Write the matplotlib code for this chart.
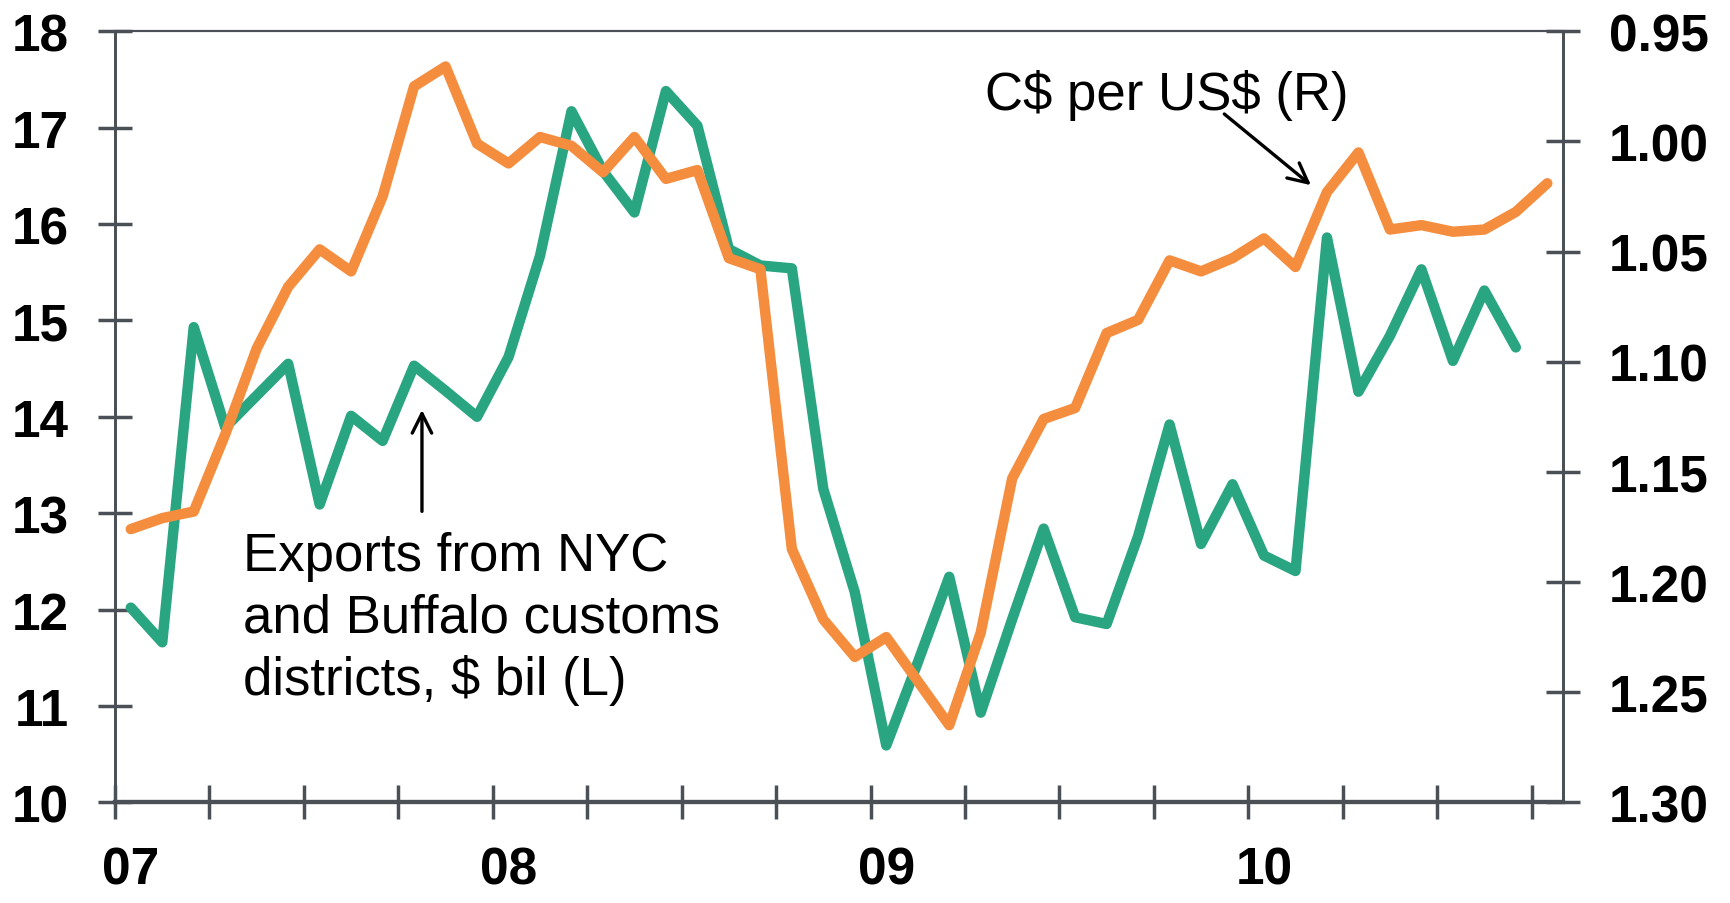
import matplotlib
matplotlib.use("Agg")
import matplotlib.pyplot as plt
import numpy as np
import pandas as pd

plt.rcParams['font.family'] = ['Liberation Sans', 'DejaVu Sans']

# monthly data, Jan 2007 onward
exports_months = pd.period_range('2007-01', '2010-09', freq='M')
exports = [12.02, 11.66, 14.93, 13.89, 14.22, 14.55, 13.09, 14.01, 13.75, 14.53,
           14.27, 14.00, 14.62, 15.67, 17.17, 16.55, 16.12, 17.38, 17.02, 15.74,
           15.57, 15.54, 13.25, 12.18, 10.59, 11.45, 12.34, 10.93, 11.90, 12.84,
           11.92, 11.85, 12.76, 13.92, 12.68, 13.30, 12.56, 12.40, 15.86, 14.26,
           14.84, 15.53, 14.58, 15.31, 14.72]

cad_months = pd.period_range('2007-01', '2010-10', freq='M')
cad_per_usd = [1.176, 1.171, 1.168, 1.133, 1.094, 1.066, 1.049, 1.059, 1.025, 0.975,
               0.966, 1.001, 1.010, 0.998, 1.002, 1.014, 0.998, 1.017, 1.013, 1.053,
               1.058, 1.185, 1.217, 1.234, 1.225, 1.245, 1.265, 1.223, 1.153, 1.126,
               1.121, 1.087, 1.081, 1.054, 1.059, 1.053, 1.044, 1.057, 1.023, 1.005,
               1.040, 1.038, 1.041, 1.040, 1.032, 1.019]

year_labels = ['07', '08', '09', '10']
left_ticks = list(range(10, 19))
right_ticks = [0.95, 1.00, 1.05, 1.10, 1.15, 1.20, 1.25, 1.30]

green = '#2aa582'
orange = '#f58d3e'
axis_col = '#4b5056'


def month_pos(periods):
    # mid-month position counted in months from Jan 2007
    return np.array([(p.year - 2007) * 12 + p.month - 0.5 for p in periods])


fig = plt.figure(figsize=(17.3, 9.04), dpi=100)
ax = fig.add_axes([0.0665, 0.1114, 0.837, 0.8529])
ax2 = ax.twinx()

ax.plot(month_pos(exports_months), exports, color=green, lw=7.5,
        solid_joinstyle='round', solid_capstyle='round', zorder=3)
ax2.plot(month_pos(cad_months), cad_per_usd, color=orange, lw=7.5,
         solid_joinstyle='round', solid_capstyle='round', zorder=3)

ax.set_xlim(0, 46)
ax.set_ylim(10, 18)
ax2.set_ylim(1.30, 0.95)

ax.set_yticks(left_ticks)
ax2.set_yticks(right_ticks)
ax2.set_yticklabels(['%.2f' % t for t in right_ticks])

ax.set_xticks(np.arange(0, 46, 3))
ax.set_xticklabels([])
ax.set_xticks([0.5 + 12 * i for i in range(len(year_labels))], minor=True)
ax.set_xticklabels(year_labels, minor=True)

for a in (ax, ax2):
    for s in a.spines.values():
        s.set_color(axis_col)
    a.spines['top'].set_linewidth(1.5)
    a.spines['bottom'].set_linewidth(3)
    a.spines['left'].set_linewidth(2)
    a.spines['right'].set_linewidth(2)

ax.tick_params(axis='y', which='major', direction='inout', length=24, width=2.5,
               color=axis_col, labelsize=37, pad=21)
ax2.tick_params(axis='y', which='major', direction='inout', length=24, width=2.5,
                color=axis_col, labelsize=37, pad=21)
ax.tick_params(axis='x', which='major', direction='inout', length=24, width=2.5,
               color=axis_col)
ax.tick_params(axis='x', which='minor', length=0, labelsize=37, pad=31)
for lab in ax.get_yticklabels() + ax2.get_yticklabels() + ax.get_xticklabels(minor=True):
    lab.set_fontweight('bold')

ax.text(4.07, 12.81, 'Exports from NYC\nand Buffalo customs\ndistricts, \\$ bil (L)',
        fontsize=38, ha='left', va='top', linespacing=1.29)
ax.annotate('', xy=(9.75, 14.10), xytext=(9.75, 12.99),
            arrowprops=dict(arrowstyle='->', lw=2.4, color='black', mutation_scale=35))

ax.text(27.64, 17.19, 'C\\$ per US\\$ (R)', fontsize=38, ha='left', va='baseline')
ax.annotate('', xy=(38.06, 16.385), xytext=(35.17, 17.16),
            arrowprops=dict(arrowstyle='->', lw=2.4, color='black', mutation_scale=35))

fig.savefig('out.png', dpi=100)
